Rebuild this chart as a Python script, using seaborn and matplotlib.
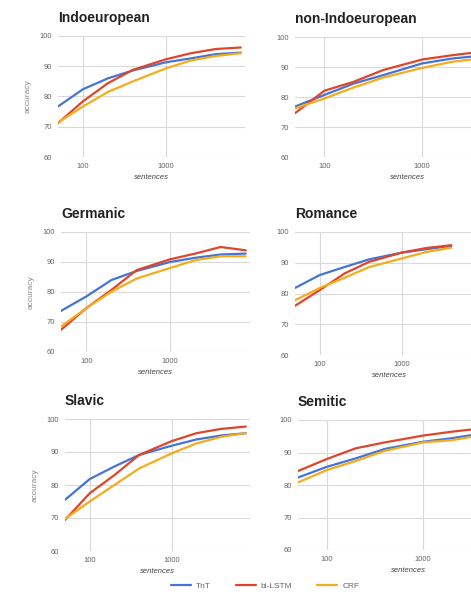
import numpy as np
import pandas as pd
import seaborn as sns
import matplotlib.pyplot as plt
from matplotlib.lines import Line2D

sns.set_style('white')
plt.rcParams['font.family'] = ['Liberation Sans', 'DejaVu Sans']

models = ['TnT', 'bi-LSTM', 'CRF']
pal = {'TnT': '#4674d6', 'bi-LSTM': '#e0452b', 'CRF': '#f5ac1c'}

sizes = [50, 100, 200, 400, 1000, 2000, 4000, 8000]

# accuracy per panel, one list per tagger (right column is cut off in the source, so shorter there)
indo_tnt = [76.7, 82.4, 86.0, 88.6, 91.3, 92.6, 94.0, 94.5]
indo_lstm = [71.2, 78.4, 84.4, 88.8, 92.3, 94.3, 95.7, 96.2]
indo_crf = [71.4, 76.7, 81.5, 85.0, 89.3, 91.9, 93.4, 94.3]

nonindo_tnt = [76.8, 80.7, 84.5, 87.3, 91.2, 92.8, 93.8]
nonindo_lstm = [74.6, 82.1, 85.1, 89.0, 92.5, 93.9, 95.1]
nonindo_crf = [76.2, 79.5, 83.2, 86.5, 89.7, 91.7, 92.9]

germ_tnt = [73.7, 78.5, 84.0, 87.0, 90.0, 91.4, 92.5, 92.8]
germ_lstm = [67.4, 74.6, 80.7, 87.3, 90.9, 92.8, 95.0, 93.9]
germ_crf = [68.5, 74.6, 80.1, 84.5, 88.0, 90.6, 91.9, 91.9]

rom_tnt = [81.8, 86.0, 88.6, 91.1, 93.3, 94.4, 95.5]
rom_lstm = [76.0, 81.1, 86.5, 90.3, 93.3, 94.8, 95.7]
rom_crf = [77.8, 81.8, 85.1, 88.6, 91.4, 93.5, 94.9]

slav_tnt = [75.5, 81.8, 85.6, 89.1, 91.9, 93.8, 95.0, 95.7]
slav_lstm = [69.4, 77.5, 83.0, 89.1, 93.3, 95.7, 97.0, 97.7]
slav_crf = [69.7, 75.0, 80.0, 85.0, 89.6, 92.6, 94.6, 95.7]

sem_tnt = [82.3, 85.6, 88.2, 91.1, 93.3, 94.4, 95.8]
sem_lstm = [84.3, 88.0, 91.3, 93.1, 95.2, 96.4, 97.4]
sem_crf = [80.8, 84.6, 87.4, 90.5, 93.1, 93.8, 95.3]

panels = [
    ('Indoeuropean', [indo_tnt, indo_lstm, indo_crf]),
    ('non-Indoeuropean', [nonindo_tnt, nonindo_lstm, nonindo_crf]),
    ('Germanic', [germ_tnt, germ_lstm, germ_crf]),
    ('Romance', [rom_tnt, rom_lstm, rom_crf]),
    ('Slavic', [slav_tnt, slav_lstm, slav_crf]),
    ('Semitic', [sem_tnt, sem_lstm, sem_crf]),
]

W, H = 471, 594
# pixel boxes: left, right, top, bottom, and the upper x limit
boxes = [
    (58, 245, 36, 157, 9000),
    (295, 520, 37, 157, 10000),
    (61, 250, 232, 352, 9000),
    (295, 484, 232, 355, 10000),
    (65, 250, 419, 551, 9000),
    (298, 519, 420, 550, 10000),
]

fig = plt.figure(figsize=(W / 100, H / 100), dpi=100)
grey = '#666666'

for i, ((title, series), (l, r, t, b, xmax)) in enumerate(zip(panels, boxes)):
    ax = fig.add_axes([l / W, 1 - b / H, (r - l) / W, (b - t) / H])
    rows = []
    for m, vals in zip(models, series):
        for s, v in zip(sizes, vals):
            rows.append({'sentences': s, 'accuracy': v, 'model': m})
    df = pd.DataFrame(rows)
    sns.lineplot(data=df, x='sentences', y='accuracy', hue='model', hue_order=models,
                 palette=pal, linewidth=1.6, legend=False, ax=ax)
    ax.set_xscale('log')
    ax.set_xlim(50, xmax)
    ax.set_ylim(60, 100)
    ax.set_xticks([100, 1000])
    ax.set_xticklabels(['100', '1000'])
    ax.minorticks_off()
    ax.set_yticks([60, 70, 80, 90, 100])
    ax.grid(True, color='#d9d9d9', linewidth=0.8)
    ax.set_axisbelow(True)
    for sp in ax.spines.values():
        sp.set_visible(False)
    ax.tick_params(length=0, labelsize=5.5, labelcolor=grey, pad=4)
    ax.set_xlabel('sentences', fontsize=5.5, style='italic', color='#444444', labelpad=3)
    if i % 2 == 0:
        ax.set_ylabel('accuracy', fontsize=6, color='#888888', labelpad=6)
    else:
        ax.set_ylabel('')
    ax.set_title(title, loc='left', fontsize=10, fontweight='bold', color='#222222', pad=10)

handles = [Line2D([0], [0], color=pal[m], lw=1.6) for m in models]
leg = fig.legend(handles, models, loc='center', bbox_to_anchor=(265 / W, 1 - 586 / H),
                 ncol=3, frameon=False, fontsize=6, handlelength=2.4, columnspacing=3,
                 handletextpad=0.6)
for txt in leg.get_texts():
    txt.set_color(grey)

fig.savefig('out.png', dpi=100)
